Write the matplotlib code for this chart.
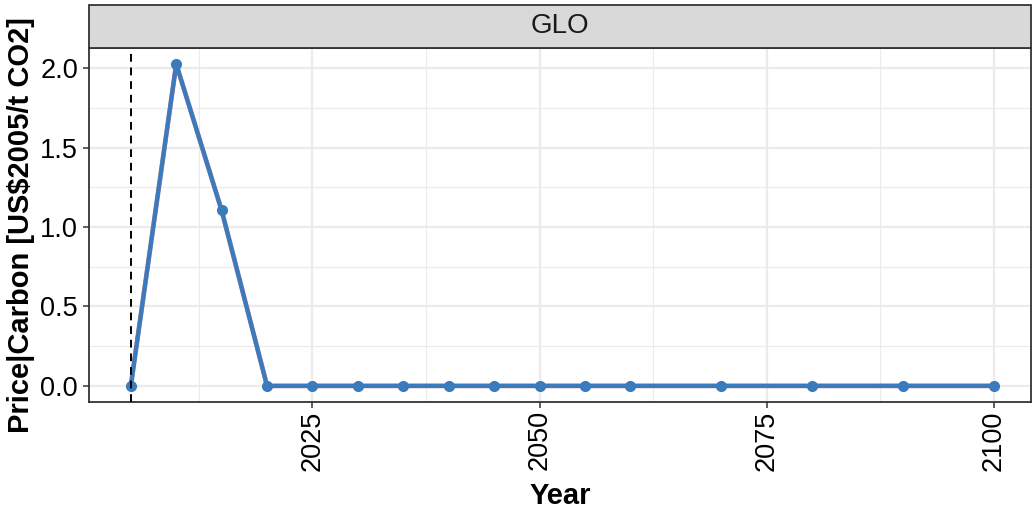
import matplotlib.pyplot as plt
from matplotlib.ticker import MultipleLocator
from matplotlib.patches import Rectangle

plt.rcParams["font.family"] = ["Liberation Sans", "DejaVu Sans"]

# carbon price, global region
years = [2005, 2010, 2015, 2020, 2025, 2030, 2035, 2040, 2045, 2050,
         2055, 2060, 2070, 2080, 2090, 2100]
price = [0.0, 2.025, 1.104, 0.0, 0.0, 0.0, 0.0, 0.0, 0.0, 0.0,
         0.0, 0.0, 0.0, 0.0, 0.0, 0.0]
region = "GLO"
ref_year = 2005

line_col = "#3a7bbd"
frame_col = "#333333"
grid_col = "#ebebeb"

fig = plt.figure(figsize=(10.33, 5.13), dpi=100)
ax = fig.add_axes([0.0862, 0.2164, 0.9118, 0.69])

ax.plot(years, price, color="#c07c90", lw=3.4, zorder=3)
ax.plot(years, price, color=line_col, lw=3.0, marker="o", ms=7,
        zorder=4, solid_capstyle="butt")
ax.axvline(ref_year, color="black", ls=(0, (4, 3)), lw=1.4, zorder=5)

ax.set_xlim(2000.4, 2104.1)
ymax = max(price)
ax.set_ylim(-0.05 * ymax, ymax * 1.05)

ax.xaxis.set_major_locator(MultipleLocator(25))
ax.xaxis.set_minor_locator(MultipleLocator(12.5))
ax.yaxis.set_major_locator(MultipleLocator(0.5))
ax.yaxis.set_minor_locator(MultipleLocator(0.25))
ax.yaxis.set_major_formatter(plt.FuncFormatter(lambda v, p: f"{v:.1f}"))

ax.grid(which="major", color=grid_col, lw=1.6, zorder=0)
ax.grid(which="minor", color=grid_col, lw=0.8, zorder=0)
ax.set_axisbelow(True)

for s in ax.spines.values():
    s.set_color(frame_col)
    s.set_linewidth(1.3)

ax.tick_params(which="major", length=4, width=1.1, color=frame_col,
               labelsize=19.5, labelcolor="black", pad=2)
ax.tick_params(which="minor", length=0)
ax.tick_params(axis="x", labelrotation=90)
ax.tick_params(axis="y", pad=4)

ax.set_xlabel("Year", fontsize=21, fontweight="bold", labelpad=8)
ax.set_ylabel("Price|Carbon [US\\$2005/t CO2]", fontsize=21,
              fontweight="bold", labelpad=4)

# facet strip
strip = Rectangle((0.0862, 0.9064), 0.9118, 0.0839, transform=fig.transFigure,
                  facecolor="#d9d9d9", edgecolor=frame_col, lw=1.3)
fig.patches.append(strip)
fig.text(0.0862 + 0.9118 / 2, 0.9064 + 0.0839 / 2, region, ha="center",
         va="center", fontsize=20, color="#1a1a1a")

fig.savefig("out.png", dpi=100)
